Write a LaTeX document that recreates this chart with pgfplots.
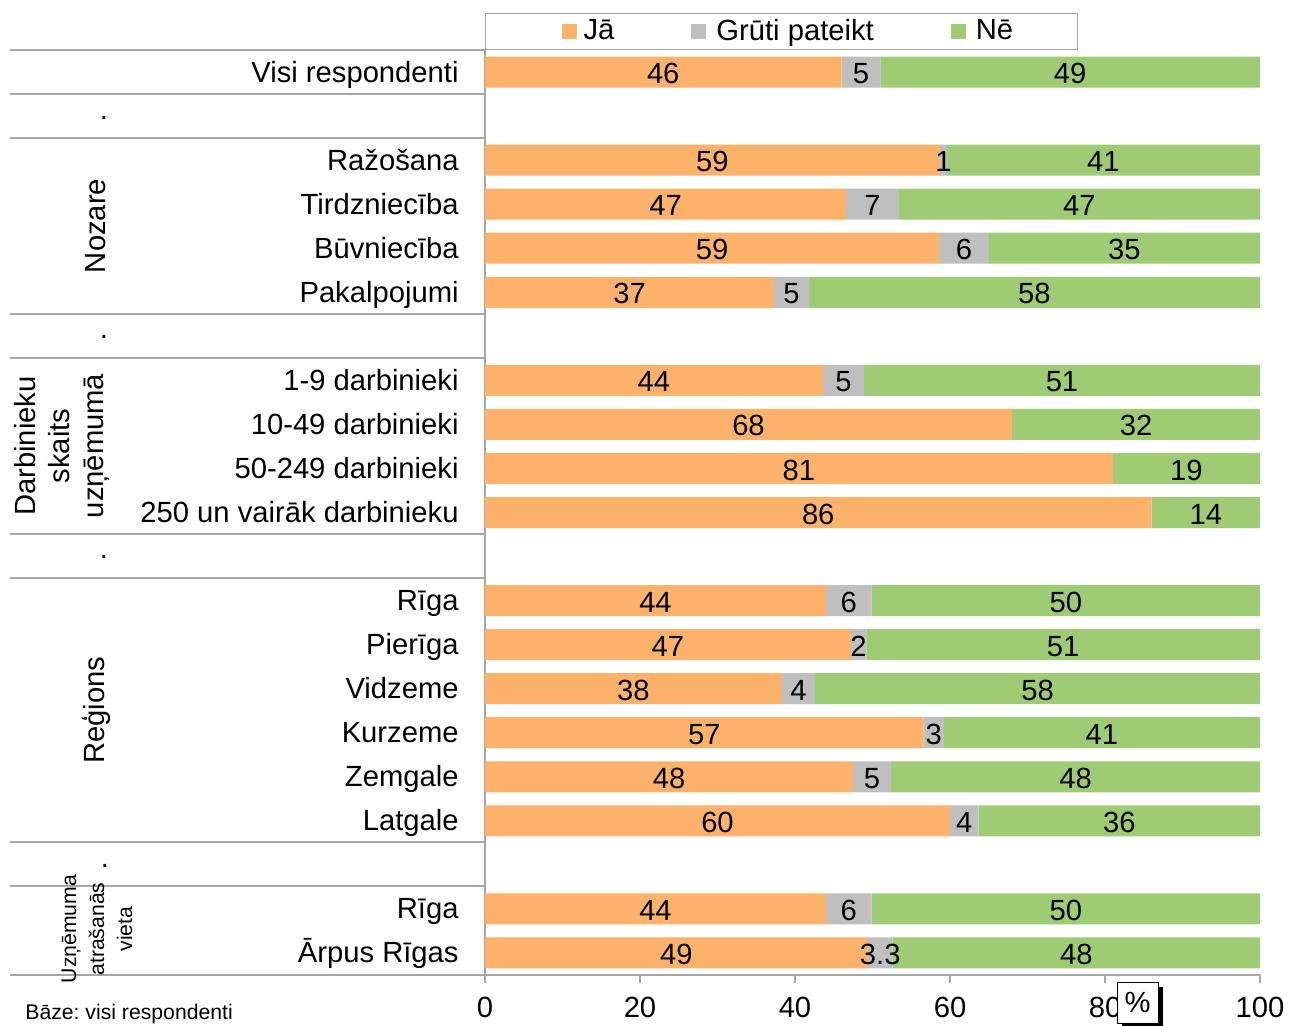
\documentclass[border=0pt]{standalone}
\usepackage{fontspec}
\setmainfont{Liberation Sans}
\usepackage{pgfplots}
\usepackage{pgfplotstable}
\pgfplotsset{compat=1.18}
\definecolor{cja}{RGB}{253,178,107}
\definecolor{cgp}{RGB}{191,191,191}
\definecolor{cne}{RGB}{158,203,115}
\definecolor{cline}{RGB}{166,166,166}
\newcommand\mf{\fontsize{14.6}{17}\selectfont}
\newcommand\sm{\fontsize{10.6}{14}\selectfont}
\pgfplotstableread{
r ja gp ne lja lgp lne
1 46 5 49 46 5 49
3 58.7 0.9 40.4 59 1 41
4 46.6 6.8 46.6 47 7 47
5 58.6 6.4 35 59 6 35
6 37.3 4.5 58.2 37 5 58
8 43.6 5.3 51.1 44 5 51
9 68 0 32 68 0 32
10 81 0 19 81 0 19
11 86 0 14 86 0 14
13 44 5.9 50.1 44 6 50
14 47.2 2 50.8 47 2 51
15 38.3 4.3 57.4 38 4 58
16 56.6 2.6 40.8 57 3 41
17 47.5 4.9 47.6 48 5 48
18 60 3.7 36.3 60 4 36
20 44 5.9 50.1 44 6 50
21 49.4 3.2 47.4 49 3.3 48
}\data
\pgfplotsset{
  seglabel/.style={
    nodes near coords={\pgfmathfloatifflags{\pgfplotspointmeta}{0}{}{\pgfmathprintnumber{\pgfplotspointmeta}}},
    nodes near coords style={anchor=center, font=\mf, text=black, inner sep=0pt, yshift=-0.75pt},
  },
  sw/.style={legend image code/.code={\fill[##1] (0pt,-3.75pt) rectangle (7.5pt,3.75pt);\path (10.5pt,0pt);}},
  swfirst/.style={legend image code/.code={\fill[##1] (0pt,-3.75pt) rectangle (7.5pt,3.75pt);\path (9pt,0pt) (-8pt,0pt);}},
}
\begin{document}
\frenchspacing
\begin{tikzpicture}
\useasboundingbox (-242.5pt,-25pt) rectangle (402pt,487.5pt);
\begin{axis}[
  at={(0pt,0pt)}, anchor=south west,
  scale only axis, width=387.5pt, height=462.5pt,
  xbar stacked, bar width=15.5pt,
  xmin=0, xmax=100, ymin=0.5, ymax=21.5,
  clip=false,
  axis x line*=bottom, axis y line*=left,
  axis line style={draw=cline, line width=0.6pt, -},
  xtick={0,20,40,60,80,100},
  tick align=outside, major tick length=4pt,
  xtick style={draw=cline, line width=0.6pt},
  ytick style={draw=none},
  ytick={1,2,4,5,6,7,8,9,11,12,13,14,16,17,18,19,21},
  yticklabels={Ārpus Rīgas, Rīga, Latgale, Zemgale, Kurzeme, Vidzeme, Pierīga, Rīga, 250 un vairāk darbinieku, 50-249 darbinieki, 10-49 darbinieki, 1-9 darbinieki, Pakalpojumi, Būvniecība, Tirdzniecība, Ražošana, Visi respondenti},
  yticklabel style={font=\mf, anchor=base east, inner sep=0pt, xshift=-9pt, yshift=-5pt},
  xticklabel style={font=\mf, anchor=north, inner sep=0pt, yshift=-7pt},
  /pgf/number format/assume math mode=true,
  point meta=explicit,
  legend columns=3,
  legend style={at={(0,1)}, anchor=south west, yshift=0pt, draw=cline, line width=0.6pt,
    font=\mf, inner xsep=30pt, inner ysep=1pt,
    /tikz/every even column/.append style={column sep=36.5pt}},
]
\addplot[fill=cja, draw=none, swfirst, seglabel] table[x=ja, y expr=22-\thisrow{r}, meta=lja]{\data};
\addlegendentry{Jā}
\addplot[fill=cgp, draw=none, sw, seglabel] table[x=gp, y expr=22-\thisrow{r}, meta=lgp]{\data};
\addlegendentry{Grūti pateikt}
\addplot[fill=cne, draw=none, sw, seglabel] table[x=ne, y expr=22-\thisrow{r}, meta=lne]{\data};
\addlegendentry{Nē}
\end{axis}
\foreach \yy in {462.5,440.5,418.5,330.5,308.5,220.5,198.5,66.5,44.5,0}
  \draw[cline, line width=0.6pt] (-237.5pt,\yy pt) -- (0pt,\yy pt);
\node[font=\mf, anchor=base] at (-190.5pt,427.75pt) {.};
\node[font=\mf, anchor=base] at (-190.5pt,318.3pt) {.};
\node[font=\mf, anchor=base] at (-190.5pt,208.3pt) {.};
\node[font=\mf, anchor=base] at (-190pt,53.8pt) {.};
\node[font=\mf, rotate=90] at (-194.5pt,374.5pt) {Nozare};
\node[font=\mf, rotate=90, align=center] at (-211.5pt,264.5pt) {Darbinieku\\skaits\\uzņēmumā};
\node[font=\mf, rotate=90] at (-194.5pt,132.5pt) {Reģions};
\node[font=\sm, rotate=90, align=center] at (-194pt,23pt) {Uzņēmuma\\atrašanās\\vieta};
\node[font=\sm, anchor=base west, inner sep=0pt] at (-230pt,-22pt) {Bāze: visi respondenti};
\fill[black] (318.5pt,-6pt) rectangle (339pt,-26.5pt);
\draw[black, fill=white, line width=0.5pt] (316pt,-3.5pt) rectangle (336.5pt,-24pt);
\node[font=\mf] at (326.25pt,-13.75pt) {\%};
\end{tikzpicture}
\end{document}
